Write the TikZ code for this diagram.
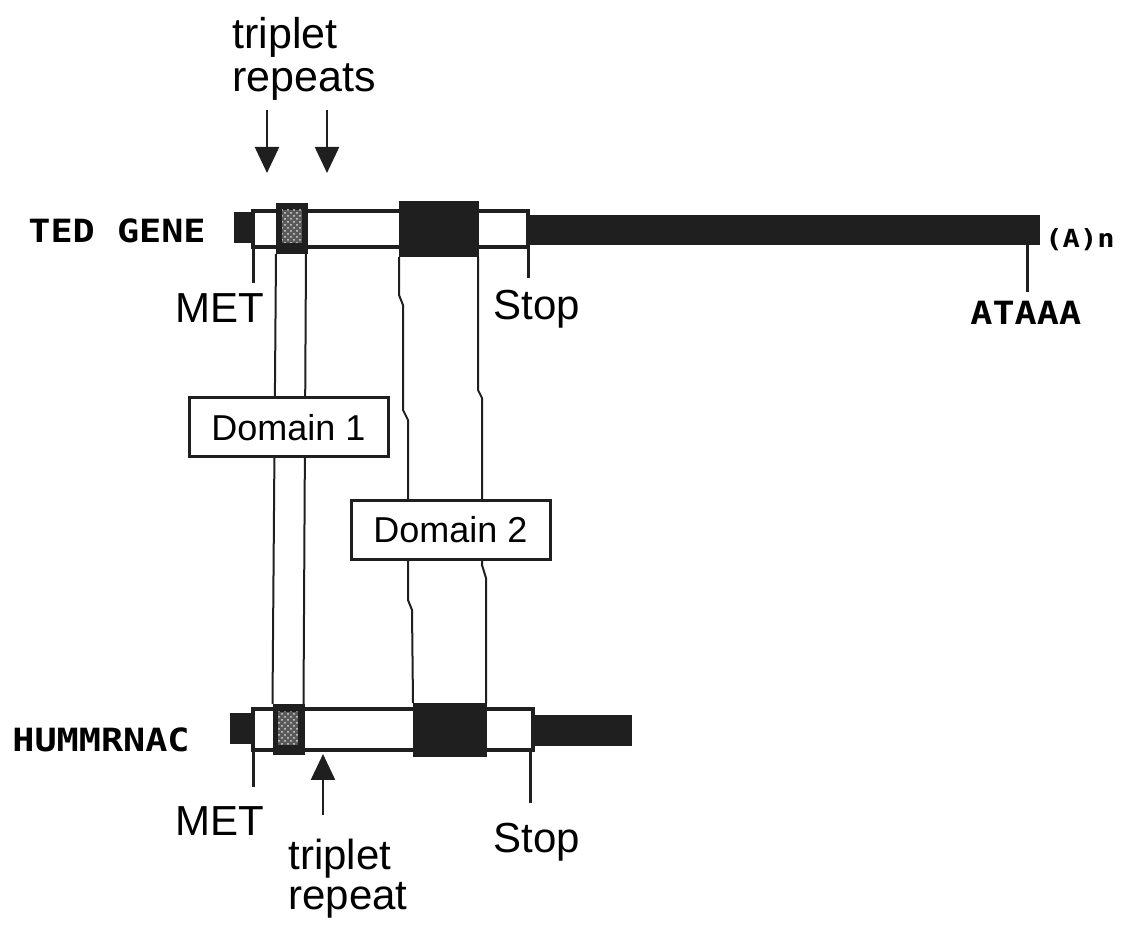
\documentclass[tikz,border=0pt]{standalone}
\usepackage{fontspec}
\setmainfont{Liberation Sans}
\newfontfamily\genefont[FakeStretch=1.15]{DejaVu Sans Mono}
\usetikzlibrary{arrows.meta,patterns}

\begin{document}
\begin{tikzpicture}[x=0.5pt, y=-0.5pt,
    blk/.style={fill=black!88, inner sep=0pt, outer sep=0pt},
    openbox/.style={draw=black!88, line width=1.7pt, fill=white, inner sep=0pt, outer sep=0pt},
    stip/.style={fill=black!88, inner sep=0pt, outer sep=0pt, minimum width=16pt, minimum height=25.5pt},
    dots/.style={preaction={fill=black!65}, pattern=crosshatch dots, pattern color=white!85!black, inner sep=0pt, minimum width=10pt, minimum height=16.5pt},
    tick/.style={draw=black!88, line width=1.5pt},
    link/.style={draw=black!88, line width=1pt},
    ptr/.style={draw=black!88, line width=1.2pt, -{Triangle[width=12pt,length=13pt]}},
    dombox/.style={draw=black!88, line width=1.5pt, fill=white, minimum width=99.5pt, minimum height=29.5pt, inner sep=0pt, font=\fontsize{18}{18}\selectfont},
    lbl/.style={inner sep=0pt, font=\fontsize{21}{20}\selectfont},
    gname/.style={inner sep=0pt, font=\genefont\bfseries\fontsize{16}{16}\selectfont}]

\useasboundingbox (0,0) rectangle (1126,930);

% TED gene
\node[blk, minimum width=9.5pt, minimum height=15.5pt] (tcap) at (243.5,227.5) {};
\node[openbox, minimum width=137.5pt, minimum height=18pt] (topen) at (390.5,229) {};
\node[blk, minimum width=256pt, minimum height=15pt] (ttail) at (784,230) {};
\node[stip] (tstip) at (292,228.5) {};
\node[dots] (tdots) at (292,226.5) {};
\node[blk, minimum width=40pt, minimum height=28pt] (tdom) at (439,229) {};

\draw[tick] (topen.south west) -- ++(0,36);
\draw[tick] (topen.south east) -- ++(0,31);
\draw[tick] ([xshift=-6.5pt]ttail.south east) -- ++(0,47);

\node[gname, anchor=base west] (ted) at (28,243) {TED GENE};
\node[inner sep=0pt, anchor=base west, font=\genefont\bfseries\fontsize{12.5}{12.5}\selectfont] (polya) at (1045,248) {(A)n};
\node[lbl, anchor=base west] (tmet) at (175,323) {MET};
\node[lbl, anchor=base west] (tstop) at (493,320) {Stop};
\node[gname, anchor=base west] (ataaa) at (970,325) {ATAAA};

% repeats above
\node[lbl, anchor=north west, align=left, font=\fontsize{21.5}{21.5}\selectfont] (trip) at (232,17) {triplet\\repeats};
\coordinate (a1s) at (267,110);
\coordinate (a1e) at (267,173);
\coordinate (a2s) at (327,110);
\coordinate (a2e) at (327,173);
\draw[ptr] (a1s) -- (a1e);
\draw[ptr] (a2s) -- (a2e);

% HUMMRNAC
\node[blk, minimum width=12.5pt, minimum height=15.5pt] (bcap) at (242.5,728.5) {};
\node[openbox, minimum width=140pt, minimum height=20.5pt] (bopen) at (393,729.5) {};
\node[blk, minimum width=49.5pt, minimum height=15.5pt] (btail) at (582.5,730.5) {};
\node[stip] (bstip) at (288.5,729.5) {};
\node[dots] (bdots) at (288,728.5) {};
\node[blk, minimum width=37pt, minimum height=27pt] (bdom) at (450,730) {};

\draw[tick] (bopen.south west) -- ++(0,37);
\draw[tick] ([xshift=-1.5pt]bopen.south east) -- ++(0,53);

\node[gname, anchor=base west] (hum) at (12,752) {HUMMRNAC};
\node[lbl, anchor=base west] (bmet) at (175,835) {MET};
\node[lbl, anchor=base west] (bstop) at (493,853) {Stop};
\node[lbl, anchor=north west, align=left, font=\fontsize{21}{20}\selectfont] (btrip) at (288,839) {triplet\\repeat};
\coordinate (a3s) at (323,815);
\coordinate (a3e) at (323,754);
\draw[ptr] (a3s) -- (a3e);

% domains
\draw[link] (tstip.south west) -- (bstip.north west);
\draw[link] ([xshift=-1pt]tstip.south east) -- ([xshift=-0.5pt]bstip.north east);
\draw[link] (tdom.south west) -- (399,295) -- (403,305) -- (403,410) -- (408,420)
    -- (408,600) -- (412,610) -- (bdom.north west);
\draw[link] ([xshift=-0.5pt]tdom.south east) -- (478,390) -- (482,398) -- (482,565)
    -- (486,578) -- ([xshift=-0.5pt]bdom.north east);

\node[dombox] (dom1) at (288.5,427.5) {Domain 1};
\node[dombox] (dom2) at (450.5,530) {Domain 2};
\end{tikzpicture}
\end{document}
